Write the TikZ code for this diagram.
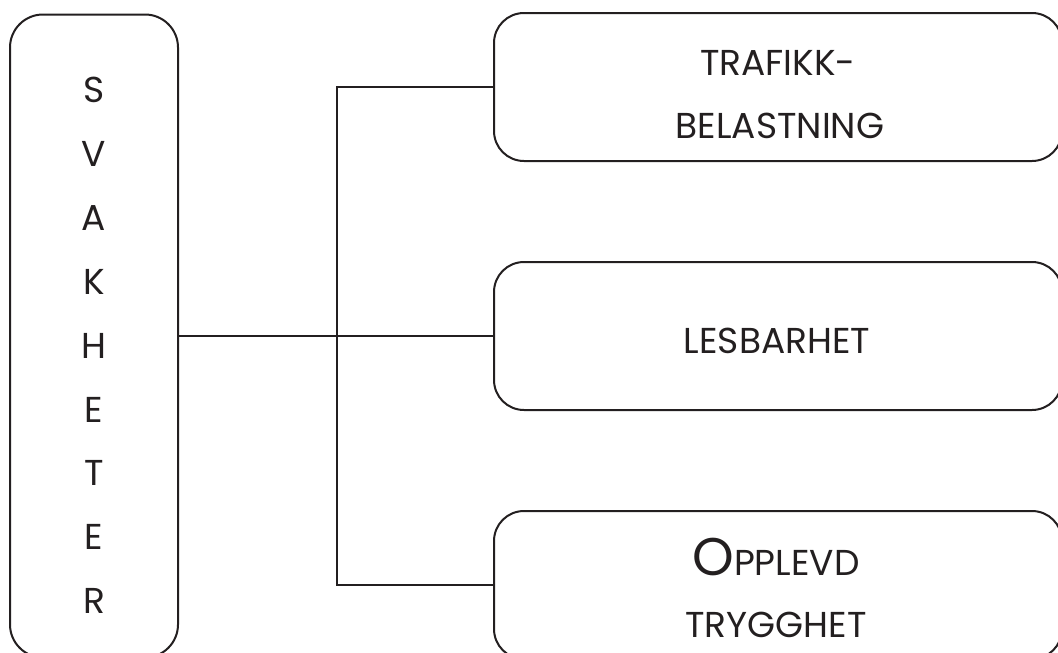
\documentclass[tikz,border=0pt]{standalone}
\usepackage{fontspec}
\setmainfont{Poppins}
\definecolor{ink}{HTML}{231F20}
\tikzset{
  kasse/.style={draw=ink, line width=2pt, rounded corners=30pt, minimum width=568pt, minimum height=148pt, inner sep=0pt},
  linje/.style={draw=ink, line width=2pt},
  tekst/.style={text=ink, font=\fontsize{36}{40}\selectfont, anchor=base, inner sep=0pt},
}

\begin{document}
\begin{tikzpicture}[x=1pt,y=-1pt]
      \useasboundingbox (0,0) rectangle (1058,653);

      % venstre kasse
      \node [kasse, rounded corners=33pt, minimum width=168pt, minimum height=643pt] (svak) at (94,336) {};
      \node [tekst] (s1) at (94,102) {S};
      \node [tekst] (s2) at (94,166) {V};
      \node [tekst] (s3) at (94,230) {A};
      \node [tekst] (s4) at (94,294) {K};
      \node [tekst] (s5) at (94,358) {H};
      \node [tekst] (s6) at (94,422) {E};
      \node [tekst] (s7) at (94,485) {T};
      \node [tekst] (s8) at (94,549) {E};
      \node [tekst] (s9) at (94,613) {R};

      % hoyre kasser
      \node [kasse] (trafikk) at (778,87) {};
      \node [kasse] (les) at (778,336) {};
      \node [kasse] (trygg) at (778,585) {};

      \node [tekst] (trafikk1) at (778,75) {TRAFIKK-};
      \node [tekst] (trafikk2) at (780,138) {BELASTNING};
      \node [tekst] (les1) at (777,353) {LESBARHET};
      \node [tekst] (trygg1) at (776,575) {{\fontsize{53}{56}\selectfont O}PPLEVD};
      \node [tekst] (trygg2) at (776,637) {TRYGGHET};

      % linjer
      \coordinate (fork) at (337,336);
      \draw [linje] (svak.east) -- (les.west);
      \draw [linje] (trafikk.west) -| (fork) |- (trygg.west);
\end{tikzpicture}
\end{document}
